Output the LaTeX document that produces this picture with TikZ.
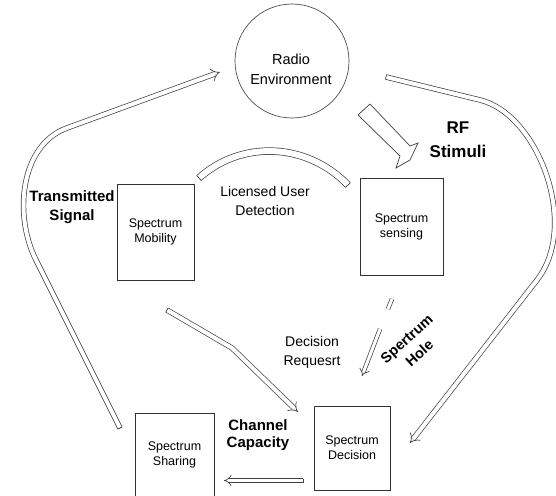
\documentclass[tikz,border=0pt]{standalone}
\usepackage{fontspec}
\setmainfont{Liberation Sans}
\usetikzlibrary{arrows.meta,calc}

% closing stroke across the free end of a doubled band
\newcommand\bandcap[3]{\draw[capline] ($(#1)!#3!90:(#2)$) -- ($(#1)!#3!-90:(#2)$);}

\begin{document}
\begin{tikzpicture}[x=1pt,y=-1pt,
  box/.style={draw=black!80, line width=0.8pt, align=center, inner sep=0pt,
    font=\fontsize{12.5}{15}\selectfont},
  lbl/.style={align=center, inner sep=0pt, font=\fontsize{14}{19}\selectfont},
  blbl/.style={align=center, inner sep=0pt, font=\bfseries\fontsize{15}{19}\selectfont},
  band/.style={draw=black!75, line width=0.7pt, double=white, double distance=#1},
  band/.default=4pt,
  flow/.style={band=#1, -{Implies}},
  flow/.default=4pt,
  capline/.style={draw=black!75, line width=0.7pt},
]
\useasboundingbox (0,0) rectangle (556,495);

% radio environment
\node[draw=black!70, line width=0.7pt, circle, minimum size=114pt] (env) at (292,61) {};
\node[lbl, font=\fontsize{14.5}{20}\selectfont] (envtxt) at (291,69) {Radio\\Environment};

% processing blocks
\node[box, minimum width=77pt, minimum height=96pt] (mob) at (155.5,232) {Spectrum\\Mobility};
\node[box, minimum width=83pt, minimum height=97pt] (sens) at (401.5,226.5) {Spectrum\\sensing};
\node[box, minimum width=76pt, minimum height=84pt] (dec) at (352,448) {Spectrum\\Decision};
\node[box, minimum width=79pt, minimum height=84pt] (shr) at (174.5,455) {Spectrum\\Sharing};

% labels
\node[blbl] (tx) at (72,207) {Transmitted\\Signal};
\node[blbl, font=\bfseries\fontsize{17}{24}\selectfont] (rf) at (458,140) {RF\\Stimuli};
\node[lbl] (lud) at (265,201) {Licensed User\\Detection};
\node[lbl] (dreq) at (312,352) {Decision\\Requesrt};
\node[blbl, font=\bfseries\fontsize{15}{16.5}\selectfont] (cc) at (258,435) {Channel\\Capacity};
\node[blbl, font=\bfseries\fontsize{14.5}{19}\selectfont, rotate=42] (hole) at (413,346) {Spertrum\\Hole};

% path points
\coordinate (txA) at (120,428);
\coordinate (txB) at (36,260);
\coordinate (txC) at (67,128);
\coordinate (txD) at (220,72);

\coordinate (rfA) at (386,77);
\coordinate (rfB) at (480,100);
\coordinate (rfC) at (537,280);
\coordinate (rfD) at (410,443);

\coordinate (ludA) at (199,178);
\coordinate (ludB) at (348,185);

\coordinate (drA) at (167,310);
\coordinate (drB) at (232,348);
\coordinate (drC) at (298,412);

\coordinate (ccA) at (303,480.5);
\coordinate (ccB) at (224,480.5);

\coordinate (hA) at (392,299);
\coordinate (hB) at (388,309);
\coordinate (hC) at (380,329);
\coordinate (hD) at (362,376);

% transmitted signal loop back to the environment
\draw[flow] (txA) -- (txB) .. controls (13.5,215.5) and (20,145) .. (txC) -- (txD);
\bandcap{txA}{txB}{2.35pt}

% radio environment to spectrum decision
\draw[flow] (rfA) -- (rfB) .. controls (538,114) and (580,225) .. (rfC) -- (rfD);
\bandcap{rfA}{rfB}{2.35pt}

% licensed user detection band
\draw[band=6pt] (ludA) .. controls (240,141) and (305,141) .. (ludB);
\bandcap{ludA}{240,141}{3.35pt}
\bandcap{ludB}{305,141}{3.35pt}

% decision request
\draw[flow] (drA) -- (drB) -- (drC);
\bandcap{drA}{drB}{2.35pt}

% channel capacity
\draw[flow=3.3pt] (ccA) -- (ccB);
\bandcap{ccA}{ccB}{2pt}

% spectrum hole
\draw[band=3pt] (hA) -- (hB);
\draw[flow=3pt] (hC) -- (hD);

% RF stimuli block arrow
\draw[draw=black!75, line width=0.7pt, fill=white, line join=miter]
  (358,115) -- (370,104) -- (410,146) -- (418,143) -- (410,160) -- (396,168) -- (400,156) -- cycle;
\end{tikzpicture}
\end{document}
